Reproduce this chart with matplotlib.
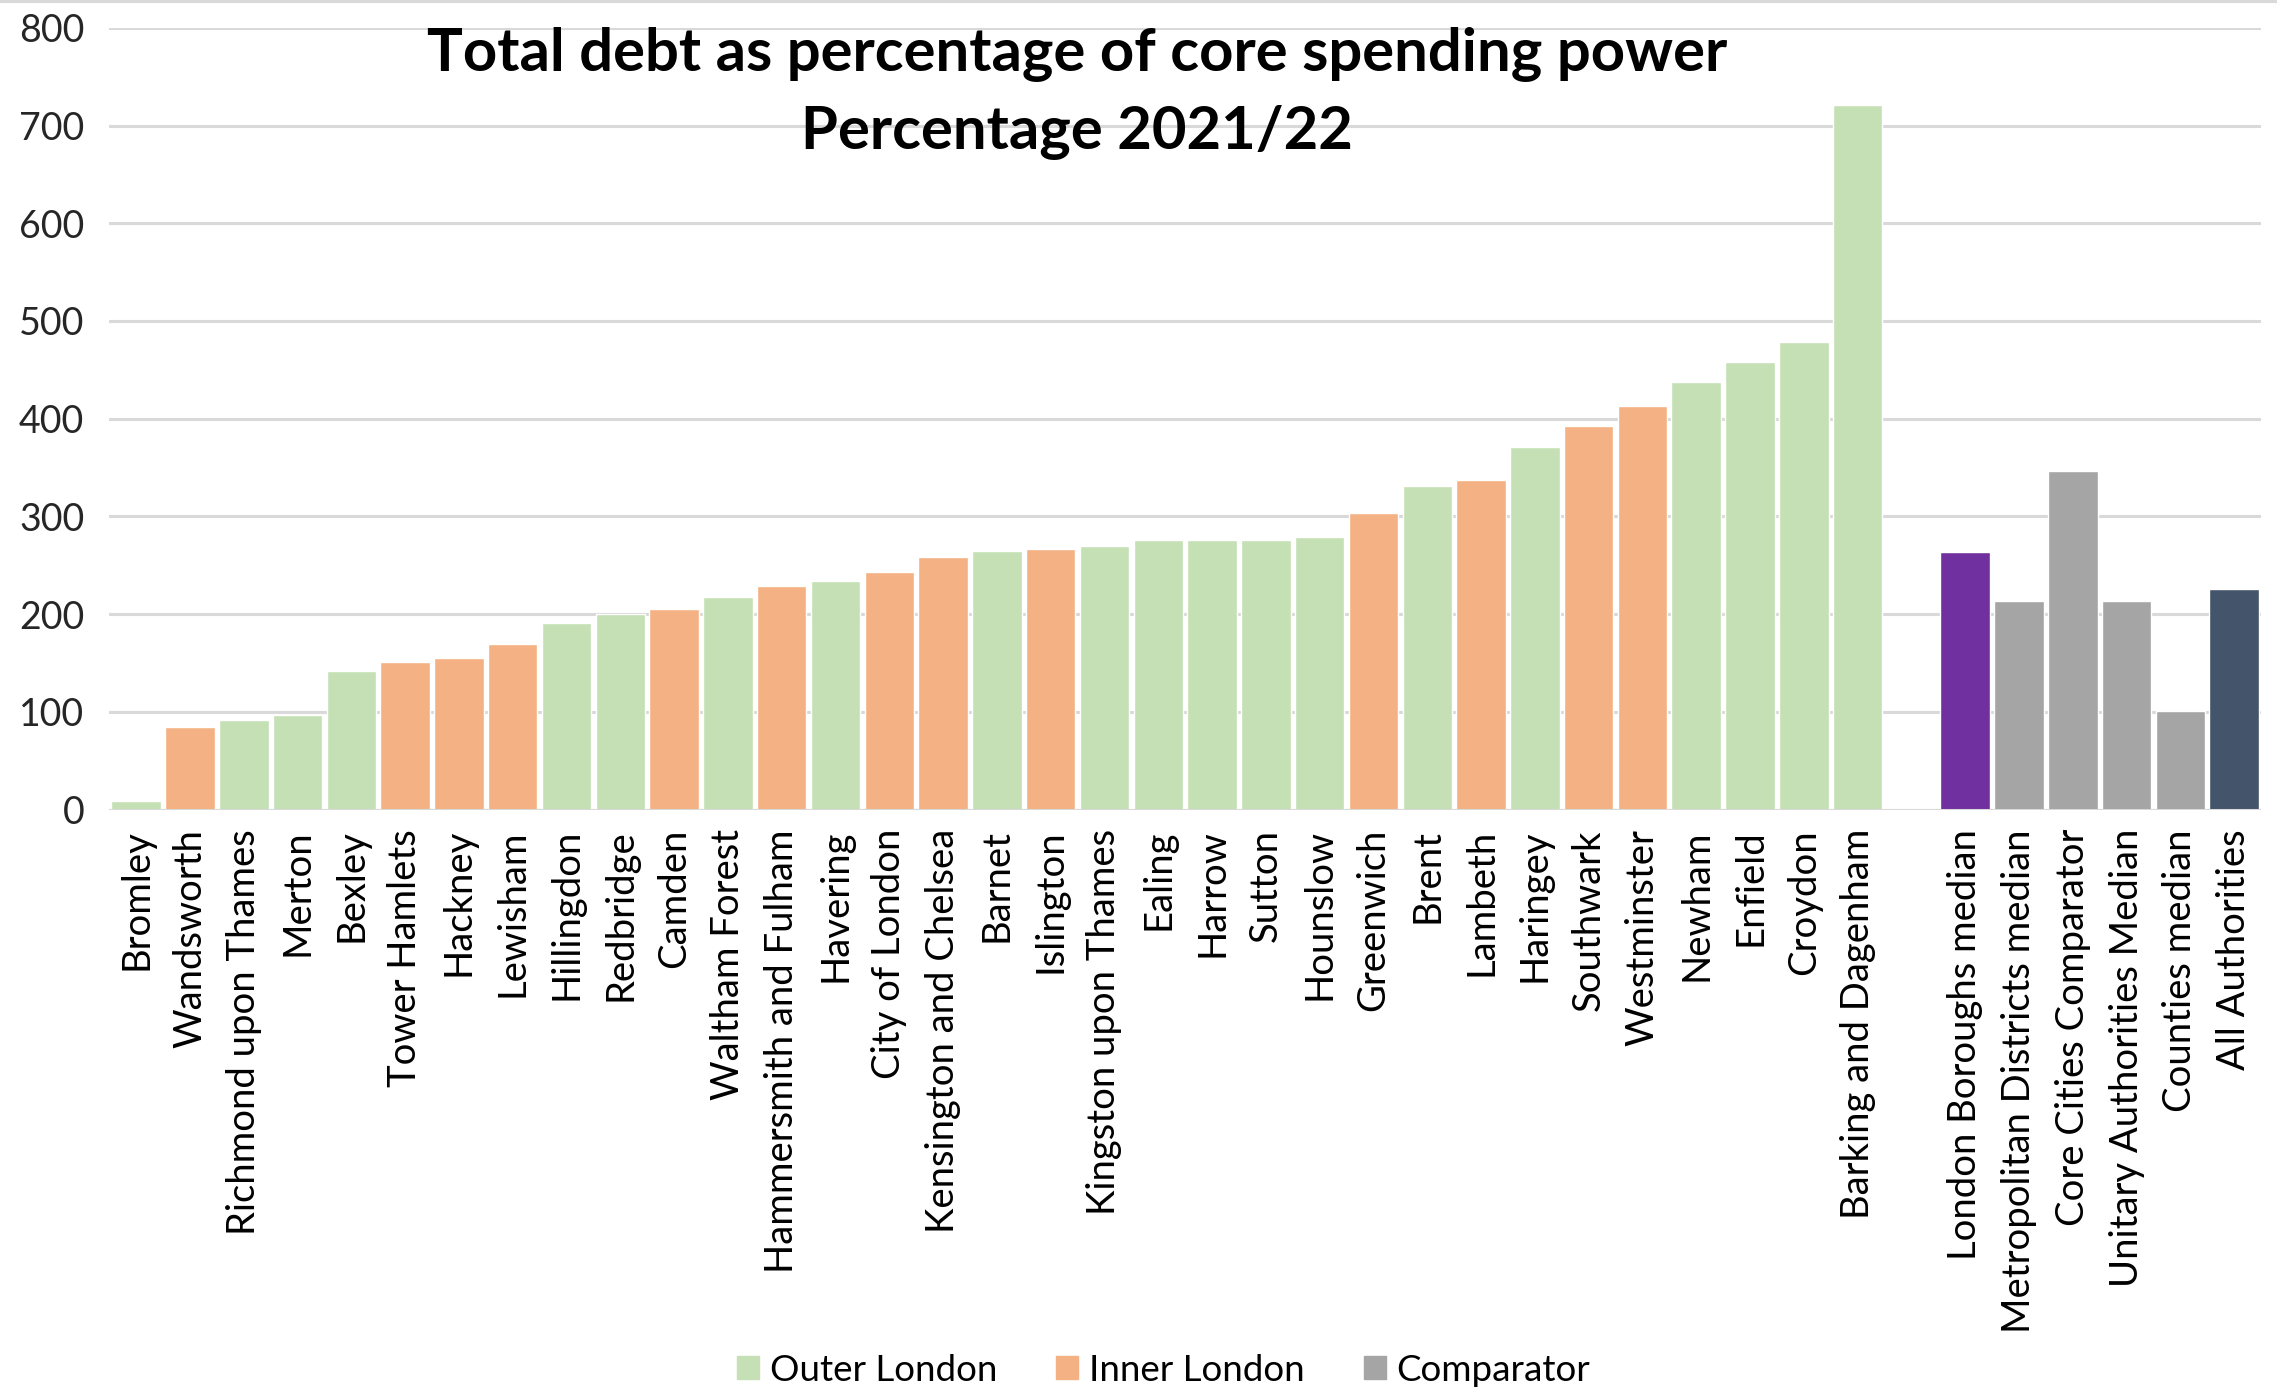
import matplotlib
matplotlib.use("Agg")
import matplotlib.pyplot as plt
from matplotlib.patches import Patch
from matplotlib.lines import Line2D

plt.rcParams['font.family'] = ['Lato', 'DejaVu Sans']

boroughs = ["Bromley", "Wandsworth", "Richmond upon Thames", "Merton", "Bexley",
            "Tower Hamlets", "Hackney", "Lewisham", "Hillingdon", "Redbridge",
            "Camden", "Waltham Forest", "Hammersmith and Fulham", "Havering",
            "City of London", "Kensington and Chelsea", "Barnet", "Islington",
            "Kingston upon Thames", "Ealing", "Harrow", "Sutton", "Hounslow",
            "Greenwich", "Brent", "Lambeth", "Haringey", "Southwark",
            "Westminster", "Newham", "Enfield", "Croydon", "Barking and Dagenham"]
borough_values = [9, 85, 92, 97, 142, 151, 155, 169, 191, 200, 205, 218, 229, 234,
                  243, 258, 265, 267, 270, 276, 276, 276, 279, 304, 331, 337, 371,
                  393, 413, 438, 458, 478, 721]
# O = outer London, I = inner London
borough_type = ["O", "I", "O", "O", "O", "I", "I", "I", "O", "O", "I", "O", "I", "O",
                "I", "I", "O", "I", "O", "O", "O", "O", "O", "I", "O", "I", "O",
                "I", "I", "O", "O", "O", "O"]

comparators = ["London Boroughs median", "Metropolitan Districts median",
               "Core Cities Comparator", "Unitary Authorities Median",
               "Counties median", "All Authorities"]
comparator_values = [264, 213, 346, 213, 101, 226]

GREEN = "#C5E0B4"
ORANGE = "#F4B183"
GREY = "#A5A5A5"
comparator_colors = ["#7030A0", GREY, GREY, GREY, GREY, "#44546A"]

fig = plt.figure(figsize=(22.77, 13.91), dpi=100)
ax = fig.add_axes([0.048, 0.418, 0.945, 0.562])

x1 = list(range(len(boroughs)))
x2 = [len(boroughs) + 1 + i for i in range(len(comparators))]
cols1 = [GREEN if t == "O" else ORANGE for t in borough_type]

ax.bar(x1, borough_values, width=0.92, color=cols1, edgecolor="white", linewidth=1, zorder=3)
ax.bar(x2, comparator_values, width=0.92, color=comparator_colors, edgecolor="white", linewidth=1, zorder=3)

ax.set_xlim(-0.5, x2[-1] + 0.5)
ax.set_ylim(0, 800)
ax.set_yticks(range(0, 801, 100))
ax.yaxis.grid(True, color="#D9D9D9", linewidth=2.2, zorder=0)
for s in ax.spines.values():
    s.set_visible(False)
ax.axhline(0, color="#D9D9D9", linewidth=2.2, zorder=4)

ax.set_xticks(x1 + x2)
ax.set_xticklabels(boroughs + comparators, rotation=90, fontsize=27.5)
ax.tick_params(axis="x", length=0, pad=14)
ax.tick_params(axis="y", length=0, pad=18, labelsize=27, labelcolor="#262626")

fig.text(0.473, 0.961, "Total debt as percentage of core spending power",
         ha="center", va="center", fontsize=43, fontweight="bold")
fig.text(0.473, 0.905, "Percentage 2021/22",
         ha="center", va="center", fontsize=43, fontweight="bold")

handles = [Patch(color=GREEN, label="Outer London"),
           Patch(color=ORANGE, label="Inner London"),
           Patch(color=GREY, label="Comparator")]
fig.legend(handles=handles, loc="center", bbox_to_anchor=(0.511, 0.015), ncol=3,
           frameon=False, fontsize=26.5, handlelength=0.6, handleheight=0.6,
           handletextpad=0.3, columnspacing=1.6)

fig.add_artist(Line2D([0, 1], [0.999, 0.999], color="#D9D9D9", linewidth=3))

fig.savefig("out.png", dpi=100)
